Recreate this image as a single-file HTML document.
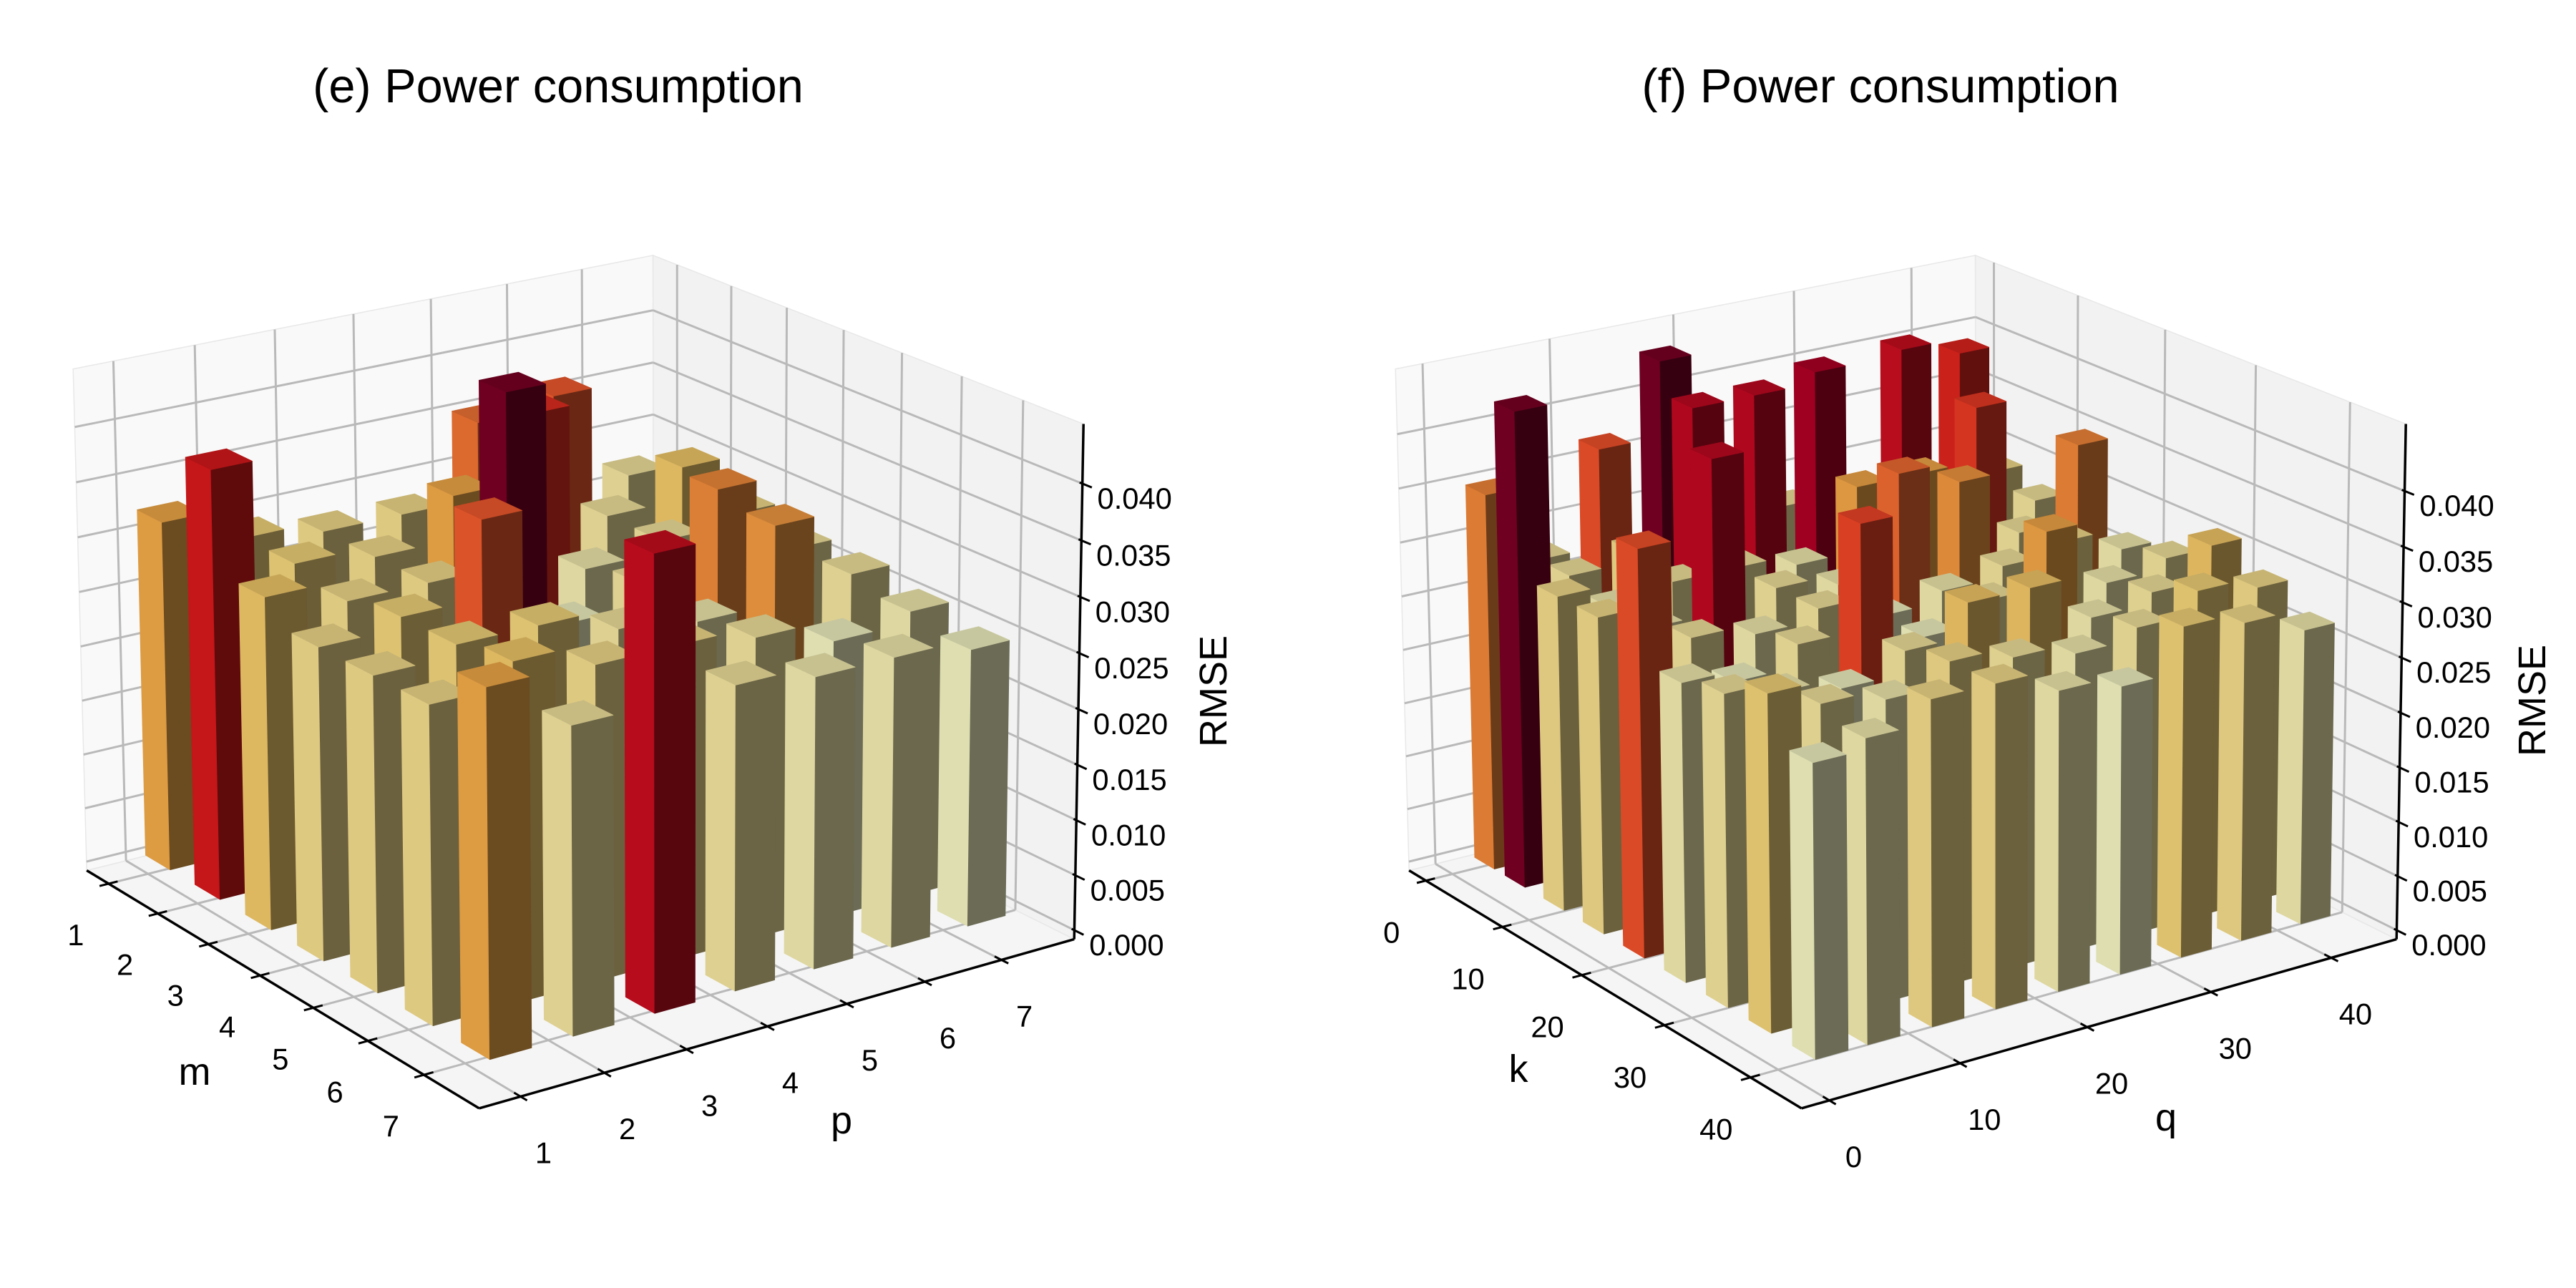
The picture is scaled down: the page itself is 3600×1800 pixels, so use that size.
<!DOCTYPE html>
<html>
<head>
<meta charset="utf-8">
<style>
html,body{margin:0;padding:0;background:#fff;}
svg{display:block;font-family:"Liberation Sans",Arial,sans-serif;}
</style>
</head>
<body>
<svg id="fig" xmlns="http://www.w3.org/2000/svg" width="3600" height="1800" viewBox="0 0 3600 1800">
  <rect x="0" y="0" width="3600" height="1800" fill="#ffffff"/>
  <g id="chartE"></g>
  <g id="chartF"></g>
  <text x="780" y="143" font-size="66.7" text-anchor="middle" fill="#000">(e) Power consumption</text>
  <text x="2628" y="143" font-size="66.7" text-anchor="middle" fill="#000">(f) Power consumption</text>
  <text x="272" y="1516" font-size="54" text-anchor="middle" fill="#000">m</text>
  <text x="1176" y="1584" font-size="54" text-anchor="middle" fill="#000">p</text>
  <text x="0" y="0" font-size="54" text-anchor="middle" fill="#000" transform="translate(1714,966) rotate(-90)">RMSE</text>
  <text x="2122" y="1512" font-size="54" text-anchor="middle" fill="#000">k</text>
  <text x="3027" y="1580" font-size="54" text-anchor="middle" fill="#000">q</text>
  <text x="0" y="0" font-size="54" text-anchor="middle" fill="#000" transform="translate(3557,979) rotate(-90)">RMSE</text>
</svg>
<script>
// ---------------- DATA ----------------
const mValues = [1, 2, 3, 4, 5, 6, 7];
const pValues = [1, 2, 3, 4, 5, 6, 7];
// rows: m = 1..7, columns: p = 1..7
const rmseE = [
  [0.032, 0.029, 0.028, 0.028, 0.035, 0.036, 0.027],
  [0.039, 0.029, 0.028, 0.032, 0.038, 0.027, 0.030],
  [0.030, 0.028, 0.028, 0.0436, 0.026, 0.027, 0.028],
  [0.028, 0.029, 0.036, 0.025, 0.027, 0.034, 0.027],
  [0.028, 0.029, 0.029, 0.027, 0.026, 0.033, 0.027],
  [0.028, 0.030, 0.028, 0.028, 0.027, 0.025, 0.026],
  [0.032, 0.027, 0.040, 0.027, 0.026, 0.026, 0.025]
];
const kValues = [1, 5, 10, 15, 20, 25, 30, 35, 40];
const qValues = [1, 5, 10, 15, 20, 25, 30, 35, 40];
// rows: k values, columns: q values
const rmseF = [
  [0.035, 0.028, 0.037, 0.044, 0.029, 0.028, 0.027, 0.0405, 0.039],
  [0.044, 0.028, 0.029, 0.041, 0.041, 0.042, 0.028, 0.028, 0.029],
  [0.029, 0.027, 0.028, 0.028, 0.027, 0.033, 0.033, 0.038, 0.028],
  [0.029, 0.027, 0.041, 0.028, 0.027, 0.036, 0.034, 0.028, 0.035],
  [0.037, 0.028, 0.027, 0.028, 0.026, 0.027, 0.028, 0.029, 0.027],
  [0.027, 0.026, 0.028, 0.0375, 0.026, 0.028, 0.033, 0.027, 0.028],
  [0.028, 0.027, 0.026, 0.028, 0.031, 0.031, 0.027, 0.028, 0.031],
  [0.030, 0.028, 0.027, 0.029, 0.028, 0.027, 0.028, 0.030, 0.029],
  [0.026, 0.027, 0.029, 0.029, 0.027, 0.026, 0.030, 0.029, 0.027]
];
const zTickValues = [0, 0.005, 0.010, 0.015, 0.020, 0.025, 0.030, 0.035, 0.040];
const mTickLabels = ['1', '2', '3', '4', '5', '6', '7'];
const pTickLabels = ['1', '2', '3', '4', '5', '6', '7'];
const kTickValues = [0, 10, 20, 30, 40];
const qTickValues = [0, 10, 20, 30, 40];

// ---------------- RENDERING ----------------
const NS = 'http://www.w3.org/2000/svg';
const YLORRD = [[255,255,204],[255,237,160],[254,217,118],[254,178,76],[253,141,60],[252,78,42],[227,26,28],[189,0,38],[128,0,38]];
function cmap(t){
  t = Math.max(0, Math.min(1, t));
  const s = t * (YLORRD.length - 1);
  const i = Math.min(YLORRD.length - 2, Math.floor(s));
  const f = s - i;
  return YLORRD[i].map((c, k) => c + (YLORRD[i + 1][k] - c) * f);
}
function shade(c, f){ return 'rgb(' + c.map(v => Math.round(v * f)).join(',') + ')'; }

function solveLin(A, b){
  const n = b.length;
  const M = A.map((r, i) => r.concat([b[i]]));
  for (let c = 0; c < n; c++){
    let piv = c;
    for (let r = c + 1; r < n; r++) if (Math.abs(M[r][c]) > Math.abs(M[piv][c])) piv = r;
    const tmp = M[c]; M[c] = M[piv]; M[piv] = tmp;
    for (let r = 0; r < n; r++){
      if (r === c) continue;
      const f = M[r][c] / M[c][c];
      for (let k = c; k <= n; k++) M[r][k] -= f * M[c][k];
    }
  }
  return M.map((r, i) => r[n] / r[i]);
}
function fitCamera(corr){
  const cx = 800, cy = 1000, s = 1000;
  const N = [], rv = [];
  for (let i = 0; i < 11; i++){ N.push(new Array(11).fill(0)); rv.push(0); }
  const add = (a, rhs) => {
    for (let i = 0; i < 11; i++){ rv[i] += a[i] * rhs; for (let j = 0; j < 11; j++) N[i][j] += a[i] * a[j]; }
  };
  corr.forEach(c => {
    const X = c[0], Y = c[1], Z = c[2];
    const u = (c[3] - cx) / s, v = (c[4] - cy) / s;
    add([X, Y, Z, 1, 0, 0, 0, 0, -u * X, -u * Y, -u * Z], u);
    add([0, 0, 0, 0, X, Y, Z, 1, -v * X, -v * Y, -v * Z], v);
  });
  const P = solveLin(N, rv);
  return (a, b, c) => {
    const d = P[8] * a + P[9] * b + P[10] * c + 1;
    return [((P[0] * a + P[1] * b + P[2] * c + P[3]) / d) * s + cx,
            ((P[4] * a + P[5] * b + P[6] * c + P[7]) / d) * s + cy];
  };
}
function calib(fn, px){
  let best = 0, bd = 1e18;
  for (let t = -0.4; t <= 1.4; t += 0.0005){
    const q = fn(t);
    const d = (q[0] - px[0]) ** 2 + (q[1] - px[1]) ** 2;
    if (d < bd){ bd = d; best = t; }
  }
  return best;
}
function limits(fn, vA, pxA, vB, pxB){
  const tA = calib(fn, pxA), tB = calib(fn, pxB);
  const span = (vB - vA) / (tB - tA);
  const lo = vA - tA * span;
  return [lo, lo + span];
}
function pts(list){ return list.map(p => p[0].toFixed(1) + ',' + p[1].toFixed(1)).join(' '); }

function drawChart(cfg){
  const g = document.getElementById(cfg.gid);
  const sx = cfg.shift;
  const corners = [
    [0,0,0, 121 + sx, 1216], [0,0,1, 102 + sx, 516], [0,1,1, 913 + sx, 357],
    [1,1,1, 1514 + sx, 592], [1,1,0, 1501 + sx, 1313], [1,0,0, 670 + sx, 1549]
  ];
  const proj = fitCamera(corners);
  const xl = limits(t => proj(t, 0, 0), cfg.xCal[0], cfg.xCal[1], cfg.xCal[2], cfg.xCal[3]);
  const yl = limits(t => proj(1, t, 0), cfg.yCal[0], cfg.yCal[1], cfg.yCal[2], cfg.yCal[3]);
  const zl = limits(t => proj(1, 1, t), cfg.zCal[0], cfg.zCal[1], cfg.zCal[2], cfg.zCal[3]);
  const nx = x => (x - xl[0]) / (xl[1] - xl[0]);
  const ny = y => (y - yl[0]) / (yl[1] - yl[0]);
  const nz = z => (z - zl[0]) / (zl[1] - zl[0]);
  const P = (x, y, z) => proj(nx(x), ny(y), nz(z));

  const panes = [
    ['floor-pane', '#f5f5f5', [[0,0,0],[1,0,0],[1,1,0],[0,1,0]]],
    ['left-wall-pane', '#f9f9f9', [[0,0,0],[0,1,0],[0,1,1],[0,0,1]]],
    ['back-wall-pane', '#f2f2f2', [[0,1,0],[1,1,0],[1,1,1],[0,1,1]]]
  ];
  panes.forEach(pn => {
    const el = document.createElementNS(NS, 'polygon');
    
    
    el.setAttribute('points', pts(pn[2].map(c => proj(c[0], c[1], c[2]))));
    el.setAttribute('fill', pn[1]);
    el.setAttribute('stroke', '#e8e8e8');
    el.setAttribute('stroke-width', '1.5');
    g.appendChild(el);
  });

  const gridG = document.createElementNS(NS, 'g');
  
  
  g.appendChild(gridG);
  const gline = (a, b, name) => {
    const el = document.createElementNS(NS, 'line');
    
    
    el.setAttribute('x1', a[0]); el.setAttribute('y1', a[1]);
    el.setAttribute('x2', b[0]); el.setAttribute('y2', b[1]);
    el.setAttribute('stroke', '#b9b9b9');
    el.setAttribute('stroke-width', '3');
    gridG.appendChild(el);
  };
  cfg.xTicks.forEach(v => {
    const u = nx(v);
    gline(proj(u, 0, 0), proj(u, 1, 0), 'floor-gridline-x');
    gline(proj(u, 1, 0), proj(u, 1, 1), 'wall-gridline-x');
  });
  cfg.yTicks.forEach(v => {
    const w = ny(v);
    gline(proj(0, w, 0), proj(1, w, 0), 'floor-gridline-y');
    gline(proj(0, w, 0), proj(0, w, 1), 'wall-gridline-y');
  });
  zTickValues.forEach(v => {
    const h = nz(v);
    gline(proj(0, 0, h), proj(0, 1, h), 'wall-gridline-z');
    gline(proj(0, 1, h), proj(1, 1, h), 'wall-gridline-z');
  });

  const axG = document.createElementNS(NS, 'g');
  
  
  g.appendChild(axG);
  const aline = (a, b, w, name) => {
    const el = document.createElementNS(NS, 'line');
    
    
    el.setAttribute('x1', a[0]); el.setAttribute('y1', a[1]);
    el.setAttribute('x2', b[0]); el.setAttribute('y2', b[1]);
    el.setAttribute('stroke', '#000');
    el.setAttribute('stroke-width', w);
    axG.appendChild(el);
  };
  const label = (p, txt, name) => {
    const el = document.createElementNS(NS, 'text');
    
    
    el.setAttribute('x', p[0].toFixed(1));
    el.setAttribute('y', (p[1] + 15).toFixed(1));
    el.setAttribute('font-size', '41.7');
    el.setAttribute('text-anchor', 'middle');
    el.setAttribute('fill', '#000');
    el.textContent = txt;
    axG.appendChild(el);
  };
  aline(proj(0, 0, 0), proj(1, 0, 0), 3.5, 'x-axis-line');
  aline(proj(1, 0, 0), proj(1, 1, 0), 3.5, 'y-axis-line');
  aline(proj(1, 1, 0), proj(1, 1, 1), 3.5, 'z-axis-line');
  cfg.xTicks.forEach((v, i) => {
    const u = nx(v);
    aline(proj(u, 0.015, 0), proj(u, -0.015, 0), 3, 'x-tick');
    const b = proj(u, 0, 0);
    label([b[0] + cfg.xLabOff[0], b[1] + cfg.xLabOff[1]], cfg.xTickLabels[i], 'x-tick-label');
  });
  cfg.yTicks.forEach((v, i) => {
    const w = ny(v);
    aline(proj(0.985, w, 0), proj(1.015, w, 0), 3, 'y-tick');
    const b = proj(1, w, 0);
    label([b[0] + cfg.yLabOff[0], b[1] + cfg.yLabOff[1]], cfg.yTickLabels[i], 'y-tick-label');
  });
  zTickValues.forEach(v => {
    const h = nz(v);
    aline(proj(0.994, 1, h), proj(1.02, 1, h), 3, 'z-tick');
    const b = proj(1, 1, h);
    label([b[0] + 73, b[1] + 20], v.toFixed(3), 'z-tick-label');
  });

  const all = cfg.data.flat();
  const hmin = Math.min.apply(null, all), hmax = Math.max.apply(null, all);
  const bars = [];
  cfg.xVals.forEach((xv, i) => {
    cfg.yVals.forEach((yv, j) => {
      const h = cfg.data[i][j];
      const x0 = xv + cfg.bx[0], x1 = xv + cfg.bx[1];
      const y0 = yv + cfg.by[0], y1 = yv + cfg.by[1];
      const key = nx((x0 + x1) / 2) - ny((y0 + y1) / 2);
      bars.push({xv, yv, h, x0, x1, y0, y1, key});
    });
  });
  bars.sort((a, b) => a.key - b.key);
  const barsG = document.createElementNS(NS, 'g');
  
  
  g.appendChild(barsG);
  bars.forEach(b => {
    const col = cmap((b.h - hmin) / (hmax - hmin));
    const bg = document.createElementNS(NS, 'g');
    
    
    const faces = [
      ['bar-side-front', 0.87, [[b.x0,b.y0,0],[b.x1,b.y0,0],[b.x1,b.y0,b.h],[b.x0,b.y0,b.h]]],
      ['bar-side-right', 0.42, [[b.x1,b.y0,0],[b.x1,b.y1,0],[b.x1,b.y1,b.h],[b.x1,b.y0,b.h]]],
      ['bar-top', 0.78, [[b.x0,b.y0,b.h],[b.x1,b.y0,b.h],[b.x1,b.y1,b.h],[b.x0,b.y1,b.h]]]
    ];
    faces.forEach(f => {
      const el = document.createElementNS(NS, 'polygon');
      
      
      const c = shade(col, f[1]);
      el.setAttribute('points', pts(f[2].map(q => P(q[0], q[1], q[2]))));
      el.setAttribute('fill', c);
      el.setAttribute('stroke', c);
      el.setAttribute('stroke-width', '0.8');
      el.setAttribute('stroke-linejoin', 'round');
      bg.appendChild(el);
    });
    barsG.appendChild(bg);
  });
}

drawChart({
  gid: 'chartE', shift: 0, xName: 'm', yName: 'p',
  xVals: mValues, yVals: pValues, data: rmseE,
  xTicks: mValues, yTicks: pValues, xTickLabels: mTickLabels, yTickLabels: pTickLabels,
  xCal: [1, [150, 1238], 7, [592, 1503]],
  yCal: [1, [728, 1534], 7, [1400, 1343]],
  zCal: [0, [1502, 1300], 0.04, [1512, 676]],
  bx: [-0.25, 0.25], by: [0.125, 0.625],
  xLabOff: [-46, 71], yLabOff: [32, 78]
});
drawChart({
  gid: 'chartF', shift: 1848, xName: 'k', yName: 'q',
  xVals: kValues, yVals: qValues, data: rmseF,
  xTicks: kTickValues, yTicks: qTickValues,
  xTickLabels: kTickValues.map(String), yTickLabels: qTickValues.map(String),
  xCal: [0, [1992, 1232], 40, [2445, 1508]],
  yCal: [0, [2557, 1540], 40, [3258, 1339]],
  zCal: [0, [3350, 1300], 0.04, [3360, 686]],
  bx: [-1.35, 1.25], by: [1.0, 3.5],
  xLabOff: [-48, 72], yLabOff: [34, 78]
});
</script>
</body>
</html>
